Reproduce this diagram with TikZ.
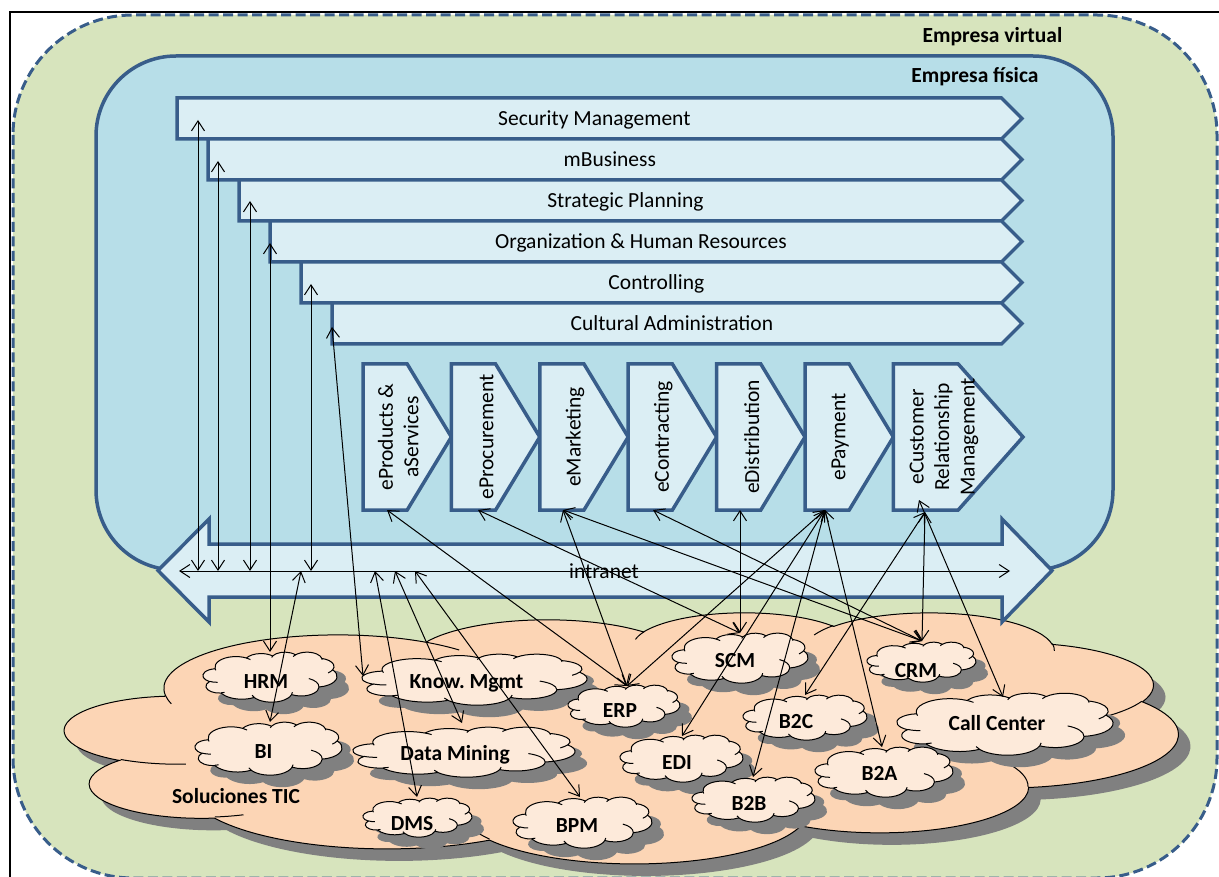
\documentclass[tikz,border=0pt]{standalone}
\usepackage{fontspec}
\setmainfont{Carlito}
\usetikzlibrary{arrows.meta}

\definecolor{virtualgreen}{HTML}{D7E4BD}
\definecolor{physblue}{HTML}{B7DEE8}
\definecolor{barblue}{HTML}{DBEEF4}
\definecolor{edgeblue}{HTML}{385D8A}
\definecolor{ticpeach}{HTML}{FCD5B5}
\definecolor{appcream}{HTML}{FDEADA}
\definecolor{shadowgray}{HTML}{808080}

% Cloud outline on a 432 x 432 grid (y pointing down)
\newcommand\cloudoutline{%
  (39,143.70)
  arc[x radius=67.53,y radius=91.90,start angle=-187.745,delta angle=128.115]
  arc[x radius=53.33,y radius=72.67,start angle=-152.02,delta angle=106.58]
  arc[x radius=43.65,y radius=59.45,start angle=-153.49,delta angle=116.18]
  arc[x radius=48.57,y radius=65.95,start angle=-139.70,delta angle=129.49]
  arc[x radius=53.33,y radius=72.73,start angle=-74.77,delta angle=97.98]
  arc[x radius=67.75,y radius=92.20,start angle=-37.52,delta angle=119.38]
  arc[x radius=57.85,y radius=78.67,start angle=0.46,delta angle=121.53]
  arc[x radius=67.52,y radius=92.15,start angle=16.85,delta angle=129.39]
  arc[x radius=77.20,y radius=105.43,start angle=58.98,delta angle=91.22]
  arc[x radius=43.60,y radius=59.18,start angle=83.31,delta angle=139.81]
  arc[x radius=43.45,y radius=59.45,start angle=120.36,delta angle=143.76]
  -- cycle}
% the small curls inside the cloud
\newcommand\cloudcurls{%
  (46.93,261.77) arc[x radius=43.45,y radius=59.45,start angle=85.55,delta angle=34.82]
  (69.28,348.99) arc[x radius=43.60,y radius=59.18,start angle=68.24,delta angle=15.07]
  (164.78,390.90) arc[x radius=67.52,y radius=92.15,start angle=146.24,delta angle=12.23]
  (288.27,347.51) arc[x radius=67.52,y radius=92.15,start angle=4.74,delta angle=12.11]
  (341.29,229.54) arc[x radius=57.85,y radius=78.67,start angle=-64.03,delta angle=64.49]
  (417.98,153.54) arc[x radius=53.33,y radius=72.73,start angle=23.21,delta angle=26.42]
  (383.24,54.26) arc[x radius=48.57,y radius=65.95,start angle=-10.21,delta angle=11.03]
  (290.78,39.52) arc[x radius=48.57,y radius=65.95,start angle=-156.29,delta angle=16.59]
  (221.41,47.20) arc[x radius=43.65,y radius=59.45,start angle=-167.73,delta angle=14.24]
  (140.00,51.92) arc[x radius=67.53,y radius=91.90,start angle=-59.63,delta angle=13.90]
  (41.27,157.89) arc[x radius=67.53,y radius=91.90,start angle=163.19,delta angle=9.06]}

% shadowed cloud: fill colour, left, top, width, height
\newcommand\cloudbody[5]{%
  \pgfmathsetmacro\cloudsx{#4/432}%
  \pgfmathsetmacro\cloudsy{#5/432}%
  \begin{scope}[shift={(#2+12,#3+12)},x=\cloudsx pt,y=-\cloudsy pt]
    \fill[shadowgray] \cloudoutline;
  \end{scope}
  \begin{scope}[shift={(#2,#3)},x=\cloudsx pt,y=-\cloudsy pt]
    \filldraw[fill=#1,draw=black,line width=1pt] \cloudoutline;
    \draw[line width=1pt] \cloudcurls;
  \end{scope}}

% application cloud: name, left, top, width, height, text x, text baseline, text
\newcommand\appcloud[8]{%
  \cloudbody{appcream}{#2}{#3}{#4}{#5}%
  \node[boldtext] (#1) at (#6,#7) {#8};}

% process step: name, left, width, tip depth, text
\newcommand\procstep[5]{%
  \draw[blueedge,fill=barblue] (#2,364) -- (#2+#3-#4,364) -- (#2+#3,437)
    -- (#2+#3-#4,510) -- (#2,510) -- cycle;
  \node[proctext] (#1) at (#2+#3/2-#4/4+2,437) {#5};}

\begin{document}
\frenchspacing
\begin{tikzpicture}[x=1pt,y=-1pt,
  every node/.style={inner sep=0pt},
  plaintext/.style={font=\fontsize{21.5}{25.5}\selectfont,anchor=base},
  boldtext/.style={font=\bfseries\fontsize{21.5}{25.5}\selectfont,anchor=base},
  proctext/.style={font=\fontsize{21.5}{25.5}\selectfont,rotate=90,align=center},
  blueedge/.style={draw=edgeblue,line width=3.5pt},
  link/.style={draw=black,line width=1pt,>={Straight Barb[length=10pt,width=13pt]},<->},
]
\useasboundingbox (0,0) rectangle (1219,877);
\fill[white] (0,0) rectangle (1219,877);
\clip (0,0) rectangle (1219,877);

% frame
\draw[line width=2pt] (10,900) -- (10,12) -- (1240,12);

% virtual enterprise
\draw[fill=virtualgreen,draw=edgeblue,line width=3pt,dash pattern=on 10pt off 4.5pt,
  rounded corners=120pt] (13,15) rectangle (1217,878);
\node[boldtext] (virtual) at (992.5,43) {Empresa virtual};

% physical enterprise
\draw[fill=physblue,blueedge,rounded corners=80pt] (96,56) rectangle (1113,570);
\node[boldtext] (fisica) at (975,83) {Empresa física};

% support layers
\foreach \i/\t in {0/Security Management,1/mBusiness,2/Strategic Planning,
    3/Organization \& Human Resources,4/Controlling,5/Cultural Administration}{
  \pgfmathsetmacro\L{177+31*\i}
  \pgfmathsetmacro\T{98+41*\i}
  \draw[blueedge,fill=barblue] (\L,\T) -- (1001.5,\T) -- (1022,\T+20.5)
    -- (1001.5,\T+41) -- (\L,\T+41) -- cycle;
  \node[plaintext] (bar\i) at ({(\L+1011.75)/2},\T+28) {\t};
}

% primary process chain
\procstep{pprod}{363}{88.4}{44.2}{eProducts \&\\aServices}
\procstep{pproc}{451.4}{88.4}{44.2}{eProcurement}
\procstep{pmkt}{539.8}{88.4}{44.2}{eMarketing}
\procstep{pcon}{628.2}{88.4}{44.2}{eContracting}
\procstep{pdist}{716.6}{88.4}{44.2}{eDistribution}
\procstep{ppay}{805}{88.4}{44.2}{ePayment}
\procstep{pcrm}{893.4}{129.6}{64.8}{eCustomer\\Relationship\\Management}

% ICT solutions
\cloudbody{ticpeach}{65}{612}{1113}{251}
\node[boldtext] (tic) at (236,803) {Soluciones TIC};

% intranet
\draw[blueedge,fill=barblue] (158,570.5) -- (209,519) -- (209,544) -- (1002,544)
  -- (1002,519) -- (1052,570.5) -- (1002,622) -- (1002,597) -- (209,597)
  -- (209,622) -- cycle;

\appcloud{hrm}{203}{652}{134}{50}{266}{688}{HRM}
\appcloud{bi}{195}{722}{147}{53}{263.5}{758}{BI}
\appcloud{km}{362}{654}{225}{51}{466.5}{688}{Know. Mgmt}
\appcloud{dm}{353}{727}{222}{50}{455}{760}{Data Mining}
\appcloud{dms}{363}{798}{109}{39}{412}{830}{DMS}
\appcloud{bpm}{513}{797}{139}{51}{577}{832}{BPM}
\appcloud{erp}{568}{685}{112}{42}{620}{717}{ERP}
\appcloud{scm}{672}{633}{136}{50}{735}{667}{SCM}
\appcloud{edi}{620}{735}{123}{47}{677}{769}{EDI}
\appcloud{btob}{692}{777}{123}{45}{749}{810}{B2B}
\appcloud{btoc}{743}{695}{124}{45}{796}{728}{B2C}
\appcloud{crm}{867}{642}{109}{40}{916}{677}{CRM}
\appcloud{callc}{897}{693}{216}{62}{997}{730}{Call Center}
\appcloud{btoa}{815}{747}{138}{50}{879.5}{780}{B2A}

% connector ends
\coordinate (netL) at (179,571);
\coordinate (netR) at (1010,571);
\coordinate (sec) at (198,120);   \coordinate (net-sec) at (198,571);
\coordinate (mbus) at (218,161);  \coordinate (net-mbus) at (218,571);
\coordinate (strat) at (250,201); \coordinate (net-strat) at (250,571);
\coordinate (org) at (270,243);   \coordinate (hrm-in) at (270,652);
\coordinate (ctrl) at (311,284);  \coordinate (net-ctrl) at (311,571);
\coordinate (cult) at (332,327);  \coordinate (km-in) at (363,676);
\coordinate (net-bi) at (301,571);  \coordinate (bi-in) at (270,722);
\coordinate (net-dms) at (375,571); \coordinate (dms-in) at (417,797);
\coordinate (net-dm) at (395,571);  \coordinate (dm-in) at (462,723);
\coordinate (net-bpm) at (415,571); \coordinate (bpm-in) at (580,797);
\coordinate (prod-out) at (387,510);
\coordinate (proc-out) at (478,510);
\coordinate (mkt-out) at (563,510);
\coordinate (con-out) at (653,510);
\coordinate (dist-out) at (740,510);
\coordinate (pay-out) at (825,510);
\coordinate (crm-out) at (925,512);
\coordinate (crm-out2) at (919,500);
\coordinate (erp-in) at (627,686);
\coordinate (scm-in) at (740,633);
\coordinate (crm-in) at (922,641);
\coordinate (edi-in) at (682,736);
\coordinate (btob-in) at (753,777);
\coordinate (btoa-in) at (882,747);
\coordinate (btoc-in) at (805,695);
\coordinate (callc-in) at (1003,697);

% connectors
\draw[link] (netL) -- (netR);
\node[plaintext] (intranet) at (604,578) {intranet};
\draw[link] (sec) -- (net-sec);
\draw[link] (mbus) -- (net-mbus);
\draw[link] (strat) -- (net-strat);
\draw[link] (org) -- (hrm-in);
\draw[link] (ctrl) -- (net-ctrl);
\draw[link] (cult) -- (km-in);
\draw[link] (net-bi) -- (bi-in);
\draw[link] (net-dms) -- (dms-in);
\draw[link] (net-dm) -- (dm-in);
\draw[link] (net-bpm) -- (bpm-in);
\draw[link] (prod-out) -- (erp-in);
\draw[link] (proc-out) -- (scm-in);
\draw[link] (mkt-out) -- (erp-in);
\draw[link] (mkt-out) -- (crm-in);
\draw[link] (con-out) -- (crm-in);
\draw[link] (dist-out) -- (scm-in);
\draw[link] (pay-out) -- (erp-in);
\draw[link] (pay-out) -- (edi-in);
\draw[link] (pay-out) -- (btob-in);
\draw[link] (pay-out) -- (btoa-in);
\draw[link] (crm-out) -- (crm-in);
\draw[link] (crm-out) -- (btoc-in);
\draw[link] (crm-out2) -- (callc-in);
\end{tikzpicture}
\end{document}
